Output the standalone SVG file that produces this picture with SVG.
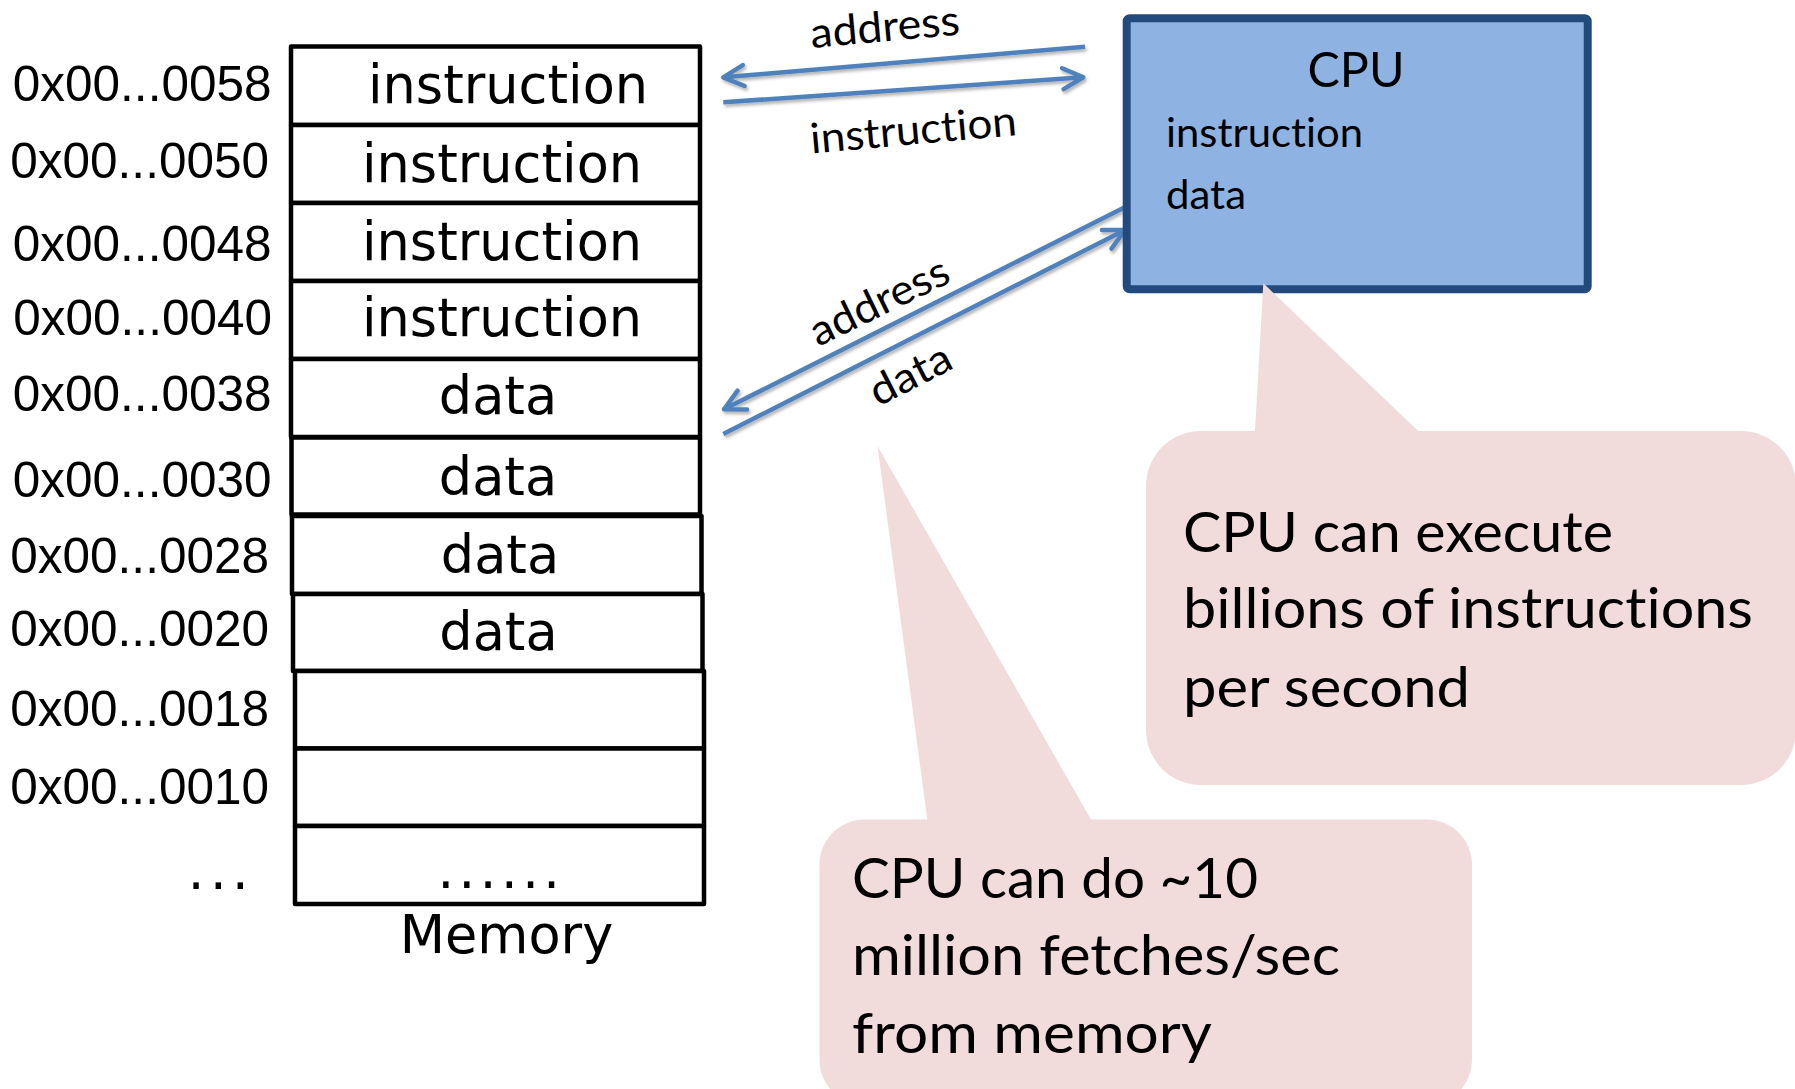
<svg xmlns="http://www.w3.org/2000/svg" width="1795" height="1089" viewBox="0 0 1795 1089">
  <style>
    .cell { fill: #ffffff; stroke: #000000; stroke-width: 4.5; stroke-linejoin: round; }
    .addr { font-family: "Liberation Sans", Arial, sans-serif; font-size: 49.5px; text-anchor: end; fill: #000000; }
    .mem { font-family: "DejaVu Sans", Verdana, sans-serif; font-size: 52.5px; text-anchor: middle; fill: #000000; }
    .cal { font-family: Lato, "Open Sans", sans-serif; fill: #000000; font-variant-ligatures: none; font-feature-settings: "liga" 0, "clig" 0; }
    .wire { fill: none; stroke: #4F81BD; stroke-width: 4.5; marker-end: url(#openArrow); }
    .bubble { fill: #F2DCDB; }
  </style>
  <defs>
    <marker id="openArrow" viewBox="-26 -15 30 30" refX="0" refY="0" markerWidth="30" markerHeight="30" markerUnits="userSpaceOnUse" orient="auto" overflow="visible">
      <path d="M-20.5,-10.5 L0,0 L-20.5,10.5" fill="none" stroke="#4F81BD" stroke-width="4.5" stroke-linecap="round" stroke-linejoin="round"/>
    </marker>
    <filter id="lineShadow" filterUnits="userSpaceOnUse" x="0" y="0" width="1795" height="1089">
      <feDropShadow dx="1.5" dy="2.5" stdDeviation="1.5" flood-color="#000000" flood-opacity="0.3"/>
    </filter>
  </defs>

  <rect x="0" y="0" width="1795" height="1089" fill="#ffffff"/>

  <!-- memory column: one rectangle per word -->
  <g id="memory">
    <rect class="cell" x="291" y="46.5" width="409" height="78.5"/>
    <rect class="cell" x="291" y="125" width="409" height="78"/>
    <rect class="cell" x="291" y="203" width="409" height="78"/>
    <rect class="cell" x="291" y="281" width="409" height="78"/>
    <rect class="cell" x="291" y="359" width="409" height="78"/>
    <rect class="cell" x="291.5" y="437.5" width="408.5" height="77"/>
    <rect class="cell" x="292" y="516" width="409.5" height="78"/>
    <rect class="cell" x="293" y="594" width="409.5" height="77"/>
    <rect class="cell" x="295" y="671" width="409" height="77.5"/>
    <rect class="cell" x="295" y="748.5" width="409" height="77.5"/>
    <rect class="cell" x="295" y="826" width="409" height="78"/>

    <text class="mem" x="508" y="103">instruction</text>
    <text class="mem" x="502" y="181.5">instruction</text>
    <text class="mem" x="502" y="260">instruction</text>
    <text class="mem" x="502" y="336">instruction</text>
    <text class="mem" x="498" y="414">data</text>
    <text class="mem" x="498" y="495">data</text>
    <text class="mem" x="500" y="573">data</text>
    <text class="mem" x="498.5" y="650">data</text>
    <text class="mem" x="501" y="888" letter-spacing="4.5">......</text>
    <text class="mem" x="506.5" y="953">Memory</text>

    <text class="addr" x="271.5" y="101">0x00...0058</text>
    <text class="addr" x="269" y="178">0x00...0050</text>
    <text class="addr" x="271.5" y="260.5">0x00...0048</text>
    <text class="addr" x="272" y="335">0x00...0040</text>
    <text class="addr" x="271.5" y="411">0x00...0038</text>
    <text class="addr" x="271.5" y="496.5">0x00...0030</text>
    <text class="addr" x="269" y="573">0x00...0028</text>
    <text class="addr" x="269" y="646">0x00...0020</text>
    <text class="addr" x="269" y="725.5">0x00...0018</text>
    <text class="addr" x="269" y="804">0x00...0010</text>
    <text class="mem" x="221" y="889" letter-spacing="5.5">...</text>
  </g>

  <!-- buses between memory and CPU -->
  <g id="connectors" filter="url(#lineShadow)">
    <line class="wire" x1="1085" y1="46.7" x2="723.3" y2="77.3"/>
    <line class="wire" x1="723.3" y1="102.3" x2="1083.3" y2="77.3"/>
    <line class="wire" x1="1127.3" y1="206" x2="724" y2="409.3"/>
    <line class="wire" x1="723.3" y1="434" x2="1125" y2="230"/>
  </g>
  <g id="connector-labels">
    <text class="cal" font-size="42" transform="translate(811.5,48) rotate(-5.2)" textLength="150" lengthAdjust="spacingAndGlyphs">address</text>
    <text class="cal" font-size="42" transform="translate(811.5,153.5) rotate(-5.1)" textLength="207" lengthAdjust="spacingAndGlyphs">instruction</text>
    <text class="cal" font-size="42" transform="translate(818,347) rotate(-26)" textLength="150" lengthAdjust="spacingAndGlyphs">address</text>
    <text class="cal" font-size="42" transform="translate(878,407) rotate(-27)" textLength="87" lengthAdjust="spacingAndGlyphs">data</text>
  </g>

  <!-- processor -->
  <g id="cpu">
    <rect x="1126.7" y="18.3" width="461" height="271" rx="3" fill="#8EB3E2" stroke="#234A7D" stroke-width="8"/>
    <text class="cal" font-size="49" x="1356" y="87.3" text-anchor="middle" textLength="97" lengthAdjust="spacingAndGlyphs">CPU</text>
    <text class="cal" font-size="40" x="1166" y="146.7" textLength="197" lengthAdjust="spacingAndGlyphs">instruction</text>
    <text class="cal" font-size="40" x="1166" y="209.3" textLength="80" lengthAdjust="spacingAndGlyphs">data</text>
  </g>

  <!-- speech bubble about instruction rate -->
  <g id="note-execute">
    <path class="bubble" d="M1201,431 L1255,431 L1263.3,283.3 L1418.3,431 L1741,431 A55,55 0 0 1 1796,486 L1796,730 A55,55 0 0 1 1741,785 L1201,785 A55,55 0 0 1 1146,730 L1146,486 A55,55 0 0 1 1201,431 Z"/>
    <text class="cal" font-size="57" x="1183" y="551.7" textLength="430" lengthAdjust="spacingAndGlyphs">CPU can execute</text>
    <text class="cal" font-size="57" x="1183" y="628.3" textLength="570" lengthAdjust="spacingAndGlyphs">billions of instructions</text>
    <text class="cal" font-size="57" x="1183" y="706.7" textLength="287" lengthAdjust="spacingAndGlyphs">per second</text>
  </g>

  <!-- speech bubble about memory fetch rate -->
  <g id="note-fetch">
    <path class="bubble" d="M864.5,819.5 L927.3,819.5 L877.5,446 L1091,819.5 L1427,819.5 A45,45 0 0 1 1472,864.5 L1472,1060 A45,45 0 0 1 1427,1105 L864.5,1105 A45,45 0 0 1 819.5,1060 L819.5,864.5 A45,45 0 0 1 864.5,819.5 Z"/>
    <text class="cal" font-size="57" x="852" y="898.3" textLength="406" lengthAdjust="spacingAndGlyphs">CPU can do ~10</text>
    <text class="cal" font-size="57" x="852" y="975" textLength="488" lengthAdjust="spacingAndGlyphs">million fetches/sec</text>
    <text class="cal" font-size="57" x="852" y="1053.3" textLength="360" lengthAdjust="spacingAndGlyphs">from memory</text>
  </g>
</svg>
